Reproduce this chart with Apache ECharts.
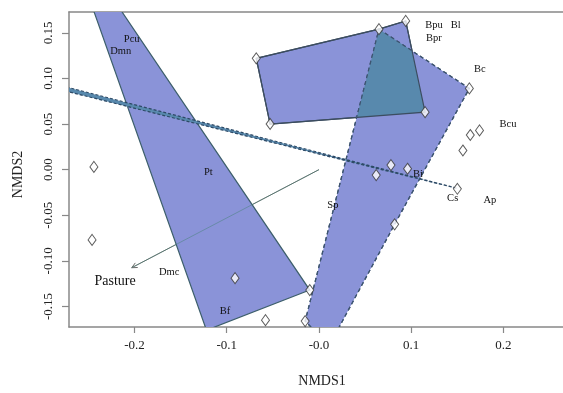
<!DOCTYPE html>
<html><head><meta charset="utf-8">
<script src="https://cdn.jsdelivr.net/npm/echarts@6/dist/echarts.min.js"></script>
<style>html,body{margin:0;padding:0;background:#fff}#c{width:563px;height:393px}</style>
</head><body><div id="c"></div>
<script>
// ---- data ----
const xTicks = [-0.2, -0.1, 0, 0.1, 0.2];
const xTickLabels = ["-0.2", "-0.1", "-0.0", "0.1", "0.2"];
const yTicks = [-0.15, -0.10, -0.05, 0, 0.05, 0.10, 0.15];
const yTickLabels = ["-0.15", "-0.10", "-0.05", "0.00", "0.05", "0.10", "0.15"];

const siteX = [-0.244, -0.246, -0.068, -0.053, 0.065, 0.094, 0.115, 0.163, 0.164, 0.174,
               0.156, 0.078, 0.096, 0.062, 0.150, 0.082, -0.010, -0.091, -0.058, -0.015];
const siteY = [0.003, -0.077, 0.122, 0.050, 0.154, 0.163, 0.063, 0.089, 0.038, 0.043,
               0.021, 0.005, 0.001, -0.006, -0.021, -0.060, -0.132, -0.119, -0.165, -0.166];

const hullPasture = [[-0.277, 0.268], [-0.010, -0.132], [-0.122, -0.176]];
const hullUpper = [[-0.068, 0.122], [0.065, 0.154], [0.094, 0.163], [0.115, 0.063], [-0.053, 0.050]];
const hullDashed = [[0.065, 0.154], [0.163, 0.089], [0.082, -0.060], [0.011, -0.193], [-0.015, -0.166]];
const hullBand = [[-0.300, 0.0975], [0.150, -0.0206], [-0.300, 0.0925]];

const arrowFrom = [0, 0];
const arrowTo = [-0.203, -0.1075];
const arrowLabel = "Pasture";
const arrowLabelPos = [-0.221, -0.1226];

const speciesNames = ["Pcu", "Dmn", "Pt", "Dmc", "Bf", "Sp", "Bpu", "Bl", "Bpr", "Bc", "Bcu", "Bi", "Cs", "Ap"];
const speciesX = [-0.203, -0.215, -0.120, -0.1625, -0.102, 0.015, 0.1246, 0.1481, 0.1246, 0.1744, 0.2048, 0.1073, 0.1449, 0.1853];
const speciesY = [0.1425, 0.1299, -0.0025, -0.1126, -0.1551, -0.0393, 0.1588, 0.1588, 0.1444, 0.1101, 0.0495, -0.0054, -0.0314, -0.0339];

// ---- geometry helper: clip polygon by convex polygon (Sutherland-Hodgman) ----
function area(p){let a=0;for(let i=0;i<p.length;i++){const q=p[i],r=p[(i+1)%p.length];a+=q[0]*r[1]-r[0]*q[1];}return a/2;}
function clipPoly(subject, clip){
  const s = area(clip) > 0 ? 1 : -1;
  let out = subject.slice();
  for (let i=0;i<clip.length;i++){
    const A=clip[i], B=clip[(i+1)%clip.length];
    const inside = P => s*((B[0]-A[0])*(P[1]-A[1])-(B[1]-A[1])*(P[0]-A[0])) >= 0;
    const inter = (P,Q) => {
      const a1=B[1]-A[1], b1=A[0]-B[0], c1=a1*A[0]+b1*A[1];
      const a2=Q[1]-P[1], b2=P[0]-Q[0], c2=a2*P[0]+b2*P[1];
      const d=a1*b2-a2*b1;
      return [(b2*c1-b1*c2)/d,(a1*c2-a2*c1)/d];
    };
    const inp = out; out = [];
    for (let j=0;j<inp.length;j++){
      const P=inp[j], Q=inp[(j+1)%inp.length];
      if (inside(Q)){ if(!inside(P)) out.push(inter(P,Q)); out.push(Q);} 
      else if (inside(P)) out.push(inter(P,Q));
    }
    if (!out.length) break;
  }
  return out;
}
const overlap = clipPoly(hullUpper, hullDashed);

const FILL = '#8a93d8';
const TEAL = '#5889ad';
const FONT = '"Liberation Serif", "DejaVu Serif", serif';

function polySeries(pts, fill, stroke, dash, z){
  return {
    type: 'custom', coordinateSystem: 'cartesian2d', clip: true, z: z,
    data: [[pts[0][0], pts[0][1]]],
    renderItem: function(params, api){
      const scr = pts.map(p => api.coord(p));
      return {type:'polygon', shape:{points: scr},
        style:{fill: fill, stroke: stroke, lineWidth: 1.2, lineDash: dash}};
    }
  };
}

const option = {
  animation: false,
  grid: {left: 69, top: 12, right: 0, bottom: 62, containLabel: false},
  xAxis: [{
    type: 'value', min: -0.271, max: 0.2645, position: 'bottom',
    name: 'NMDS1', nameLocation: 'middle', nameGap: 47,
    nameTextStyle: {fontFamily: FONT, fontSize: 14, color: '#222', padding: [0,0,0,12]},
    axisLine: {show: true, onZero: false, lineStyle: {color: '#888', width: 1.5}},
    axisTick: {show: true, length: 6, customValues: xTicks, lineStyle: {color: '#888', width: 1.2}},
    axisLabel: {customValues: xTicks, margin: 12, fontFamily: FONT, fontSize: 13, color: '#222',
      formatter: v => { const i = xTicks.findIndex(t => Math.abs(t - v) < 1e-9); return i >= 0 ? xTickLabels[i] : ''; }},
    splitLine: {show: false}
  }, {
    type: 'value', min: -0.271, max: 0.2645, position: 'top',
    axisLine: {show: true, onZero: false, lineStyle: {color: '#888', width: 1.5}},
    axisTick: {show: false}, axisLabel: {show: false}, splitLine: {show: false}
  }],
  yAxis: {
    type: 'value', min: -0.1725, max: 0.1728,
    name: 'NMDS2', nameLocation: 'middle', nameGap: 44, nameRotate: 90,
    nameTextStyle: {fontFamily: FONT, fontSize: 14, color: '#222', padding: [0,10,0,0]},
    axisLine: {show: true, onZero: false, lineStyle: {color: '#888', width: 1.5}},
    axisTick: {show: true, length: 7, customValues: yTicks, lineStyle: {color: '#888', width: 1.2}},
    axisLabel: {customValues: yTicks, rotate: 90, margin: 14, fontFamily: FONT, fontSize: 13, color: '#222',
      formatter: v => { const i = yTicks.findIndex(t => Math.abs(t - v) < 1e-9); return i >= 0 ? yTickLabels[i] : ''; }},
    splitLine: {show: false}
  },
  series: [
    {
      type: 'custom', coordinateSystem: 'cartesian2d', clip: true, z: 1,
      data: [[arrowFrom[0], arrowFrom[1]]],
      renderItem: function(params, api){
        const o = api.coord(arrowFrom), e = api.coord(arrowTo);
        const ang = Math.atan2(e[1]-o[1], e[0]-o[0]);
        const L = 6, w = 0.45;
        const h1 = [e[0]-L*Math.cos(ang-w), e[1]-L*Math.sin(ang-w)];
        const h2 = [e[0]-L*Math.cos(ang+w), e[1]-L*Math.sin(ang+w)];
        return {type:'group', children:[
          {type:'line', shape:{x1:o[0],y1:o[1],x2:e[0],y2:e[1]}, style:{stroke:'#6a6a6a', lineWidth:1}},
          {type:'polyline', shape:{points:[h1,e,h2]}, style:{stroke:'#6a6a6a', lineWidth:1, fill:null}}
        ]};
      }
    },
    polySeries(hullPasture, FILL, '#3d5f6b', null, 2),
    polySeries(hullUpper, FILL, '#3c4d60', null, 2),
    polySeries(hullDashed, FILL, '#3d5470', [4, 3], 3),
    polySeries(overlap, TEAL, null, null, 4),
    polySeries(hullUpper, null, '#3c4d60', null, 5),
    polySeries(hullDashed, null, '#3d5470', [4, 3], 5),
    polySeries(hullBand, TEAL, '#2e4a66', [3, 2], 6),
    {
      type: 'custom', coordinateSystem: 'cartesian2d', clip: true, z: 6,
      data: [[arrowFrom[0], arrowFrom[1]]],
      renderItem: function(params, api){
        const o = api.coord(arrowFrom), e = api.coord(arrowTo);
        return {type:'line', shape:{x1:o[0],y1:o[1],x2:e[0],y2:e[1]}, style:{stroke:'rgba(70,130,120,0.5)', lineWidth:1}};
      }
    },
    {
      type: 'scatter', z: 8, symbol: 'diamond', symbolSize: [8, 11],
      data: siteX.map((x, i) => [x, siteY[i]]),
      itemStyle: {color: '#fff', borderColor: '#333', borderWidth: 1}
    },
    {
      type: 'custom', coordinateSystem: 'cartesian2d', clip: false, z: 9,
      data: speciesNames.map((n, i) => [speciesX[i], speciesY[i]]),
      renderItem: function(params, api){
        const p = api.coord([api.value(0), api.value(1)]);
        return {type:'text', style:{text: speciesNames[params.dataIndex], x:p[0], y:p[1],
          align:'center', verticalAlign:'middle', font: '10.5px ' + FONT, fill:'#111'}};
      }
    },
    {
      type: 'custom', coordinateSystem: 'cartesian2d', clip: false, z: 9,
      data: [[arrowLabelPos[0], arrowLabelPos[1]]],
      renderItem: function(params, api){
        const p = api.coord(arrowLabelPos);
        return {type:'text', style:{text: arrowLabel, x:p[0], y:p[1],
          align:'center', verticalAlign:'middle', font: '14px ' + FONT, fill:'#111'}};
      }
    }
  ]
};
const chart = echarts.init(document.getElementById('c'), null, {renderer: 'canvas'});
chart.setOption(option);
</script></body></html>
